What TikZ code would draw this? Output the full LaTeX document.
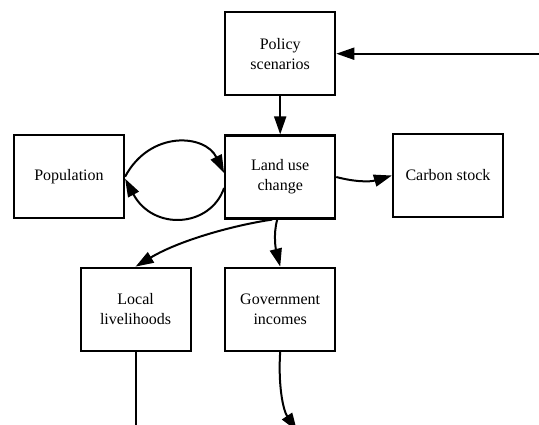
\documentclass[tikz,border=0pt]{standalone}
\usepackage{fontspec}
\setmainfont{Liberation Serif}
\usetikzlibrary{arrows.meta}
\begin{document}
\begin{tikzpicture}[x=1pt,y=-1pt,
  box/.style={draw,line width=2.2pt,minimum width=110pt,minimum height=83pt,
    inner sep=0pt,align=center,font=\fontsize{16}{20}\selectfont},
  conn/.style={line width=2pt,-{Triangle[length=18pt,width=12pt]}},
  stemline/.style={line width=2pt}]
\useasboundingbox (0,0) rectangle (539,425);
\clip (0,0) rectangle (539,425);
\node[box] (policy) at (280.2,53.7) {Policy\\scenarios};
\node[box] (land) at (280.2,177) {Land use\\change};
\node[box] (pop) at (69,176.7) {Population};
\node[box] (carbon) at (448,175.5) {Carbon stock};
\node[box] (local) at (135.6,309.2) {Local\\livelihoods};
\node[box] (gov) at (280.2,309.2) {Government\\incomes};
\coordinate (rin) at (545,53.7);
\coordinate (lb) at (135.6,430);
\coordinate (gb) at (297,431);
\draw[conn] (rin) -- (policy.east);
\draw[conn] (policy.south) -- (land.north);
\draw[conn] (pop.east) .. controls (150,130) and (205,134) .. ([yshift=4pt]land.west);
\draw[conn] ([yshift=-11pt]land.west) .. controls (210,228) and (153,231) .. ([yshift=-2pt]pop.east);
\draw[conn] (land.east) .. controls (355,182) and (370,182) .. (carbon.west);
\draw[conn] ([xshift=-8pt]land.south) .. controls (235,225) and (180,240) .. (local.north);
\draw[conn] ([xshift=-3pt]land.south) .. controls (273,235) and (276,250) .. (gov.north);
\draw[stemline] (local.south) -- (lb);
\draw[conn] (gov.south) .. controls (278,385) and (283,410) .. (gb);
\end{tikzpicture}
\end{document}
